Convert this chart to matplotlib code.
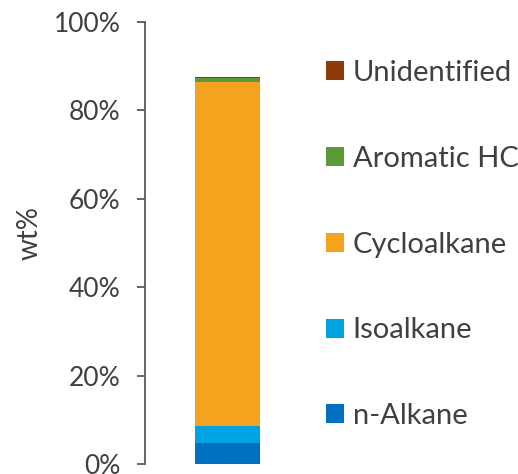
import matplotlib
matplotlib.use("Agg")
import matplotlib.pyplot as plt
from matplotlib.patches import Patch
from matplotlib.ticker import FuncFormatter

# Composition by hydrocarbon class (wt%)
components = ["n-Alkane", "Isoalkane", "Cycloalkane", "Aromatic HC", "Unidentified"]
values = [4.8, 3.85, 77.6, 0.9, 0.3]
colors = ["#0070C0", "#00A3E2", "#F5A21E", "#5B9A36", "#8E3B0C"]
categories = [""]

plt.rcParams["font.family"] = ["Lato", "DejaVu Sans"]
text_color = "#404040"

fig = plt.figure(figsize=(5.18, 4.74), dpi=100)
W, H = 518, 474
ax = fig.add_axes([145 / W, (H - 464.3) / H, 165 / W, (464.3 - 21.5) / H])

bottom = 0.0
for name, val, col in zip(components, values, colors):
    ax.bar(0, val, width=0.394, bottom=bottom, color=col, label=name, linewidth=0)
    bottom += val

ax.set_xlim(-0.5, 0.5)
ax.set_ylim(0, 100)
ax.set_yticks(range(0, 101, 20))
ax.yaxis.set_major_formatter(FuncFormatter(lambda v, p: f"{v:.0f}%"))
ax.set_xticks([])

for s in ["top", "right", "bottom"]:
    ax.spines[s].set_visible(False)
ax.spines["left"].set_color("#595959")
ax.spines["left"].set_linewidth(1.3)
ax.tick_params(axis="y", direction="out", length=6, width=1.3, color="#595959",
               labelsize=19, labelcolor=text_color, pad=11.5)

ax.set_ylabel("wt%", fontsize=20, color=text_color)
ax.yaxis.set_label_coords(-0.62, (464.3 - 233) / (464.3 - 21.5))

handles = [Patch(facecolor=c, edgecolor="none") for c in colors][::-1]
labels = components[::-1]
leg = fig.legend(handles, labels, loc="upper left", bbox_to_anchor=(326 / W, 1 - 60 / H),
                 frameon=False, fontsize=21, labelcolor=text_color,
                 handlelength=0.62, handleheight=0.62, handletextpad=0.3,
                 labelspacing=2.05, borderaxespad=0, borderpad=0)

fig.savefig("out.png", dpi=100)
